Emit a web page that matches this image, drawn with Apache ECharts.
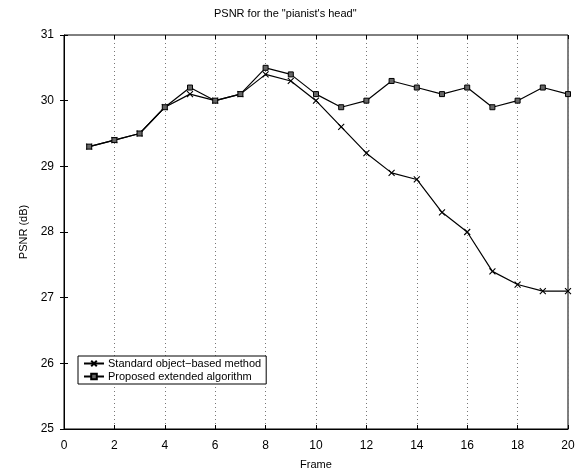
<!DOCTYPE html>
<html>
<head>
<meta charset="utf-8">
<script src="https://cdn.jsdelivr.net/npm/echarts@6/dist/echarts.min.js"></script>
<style>
  html, body { margin: 0; padding: 0; background: #fff; }
  #chart { width: 583px; height: 475px; }
</style>
</head>
<body>
<div id="chart"></div>
<script>
// frame numbers and PSNR values
const frames = [1, 2, 3, 4, 5, 6, 7, 8, 9, 10, 11, 12, 13, 14, 15, 16, 17, 18, 19, 20]
const standardPsnr = [29.3, 29.4, 29.5, 29.9, 30.1, 30.0, 30.1, 30.4, 30.3, 30.0, 29.6, 29.2, 28.9, 28.8, 28.3, 28.0, 27.4, 27.2, 27.1, 27.1]
const proposedPsnr = [29.3, 29.4, 29.5, 29.9, 30.2, 30.0, 30.1, 30.5, 30.4, 30.1, 29.9, 30.0, 30.3, 30.2, 30.1, 30.2, 29.9, 30.0, 30.2, 30.1]
const seriesNames = ['Standard object\u2212based method', 'Proposed extended algorithm']

const font = 'Liberation Sans, Arial, Helvetica, sans-serif'
const chart = echarts.init(document.getElementById('chart'))

const pairs = arr => frames.map((f, i) => [f, arr[i]])

// extra axes only to get the inward ticks on the top and right of the frame
const hiddenAxis = (pos) => ({
  type: 'value',
  position: pos,
  min: pos === 'top' ? 0 : 25,
  max: pos === 'top' ? 20 : 31,
  interval: pos === 'top' ? 2 : 1,
  axisLine: { show: false },
  axisTick: { show: true, inside: true, length: 4, lineStyle: { color: '#000' } },
  axisLabel: { show: false },
  splitLine: { show: false }
})

const option = {
  animation: false,
  backgroundColor: '#fff',
  title: {
    text: 'PSNR for the "pianist\'s head"',
    left: 209,
    top: 3,
    textStyle: { fontFamily: font, fontSize: 11, fontWeight: 'normal', color: '#000' }
  },
  legend: {
    orient: 'vertical',
    left: 78,
    top: 356,
    padding: [2, 5, 2, 5],
    itemGap: 2,
    itemWidth: 20,
    itemHeight: 7,
    borderColor: '#000',
    borderWidth: 1,
    backgroundColor: '#fff',
    textStyle: { fontFamily: font, fontSize: 11, color: '#000', padding: [0, 0, 0, -1] },
    data: seriesNames
  },
  grid: {
    left: 64,
    right: 15,
    top: 35,
    bottom: 44,
    show: true,
    borderColor: '#000',
    borderWidth: 1
  },
  xAxis: [{
    type: 'value',
    min: 0,
    max: 20,
    interval: 2,
    name: 'Frame',
    nameLocation: 'middle',
    nameGap: 30,
    nameTextStyle: { fontFamily: font, fontSize: 11, color: '#000' },
    axisLine: { show: true, lineStyle: { color: '#000' } },
    axisTick: { show: true, inside: true, length: 4, lineStyle: { color: '#000' } },
    axisLabel: { fontFamily: font, fontSize: 12, color: '#000', margin: 11 },
    splitLine: { show: true, lineStyle: { color: '#777', type: [1, 3], width: 1 } }
  }, hiddenAxis('top')],
  yAxis: [{
    type: 'value',
    min: 25,
    max: 31,
    interval: 1,
    name: 'PSNR (dB)',
    nameLocation: 'middle',
    nameGap: 35,
    nameTextStyle: { fontFamily: font, fontSize: 11, color: '#000' },
    axisLine: { show: true, lineStyle: { color: '#000' } },
    axisTick: { show: true, inside: true, length: 4, lineStyle: { color: '#000' } },
    axisLabel: { fontFamily: font, fontSize: 12, color: '#000', margin: 10 },
    splitLine: { show: false }
  }, hiddenAxis('right')],
  series: [{
    name: seriesNames[0],
    type: 'line',
    data: pairs(standardPsnr),
    symbol: 'path://M0,0L10,10M0,10L10,0',
    symbolSize: 6,
    lineStyle: { color: '#000', width: 1.2 },
    itemStyle: { color: '#000', borderColor: '#000', borderWidth: 1.1 },
    z: 3
  }, {
    name: seriesNames[1],
    type: 'line',
    data: pairs(proposedPsnr),
    symbol: 'rect',
    symbolSize: 5,
    lineStyle: { color: '#000', width: 1.2 },
    itemStyle: { color: '#666', borderColor: '#000', borderWidth: 1 },
    z: 4
  }]
}

chart.setOption(option)
</script>
</body>
</html>
